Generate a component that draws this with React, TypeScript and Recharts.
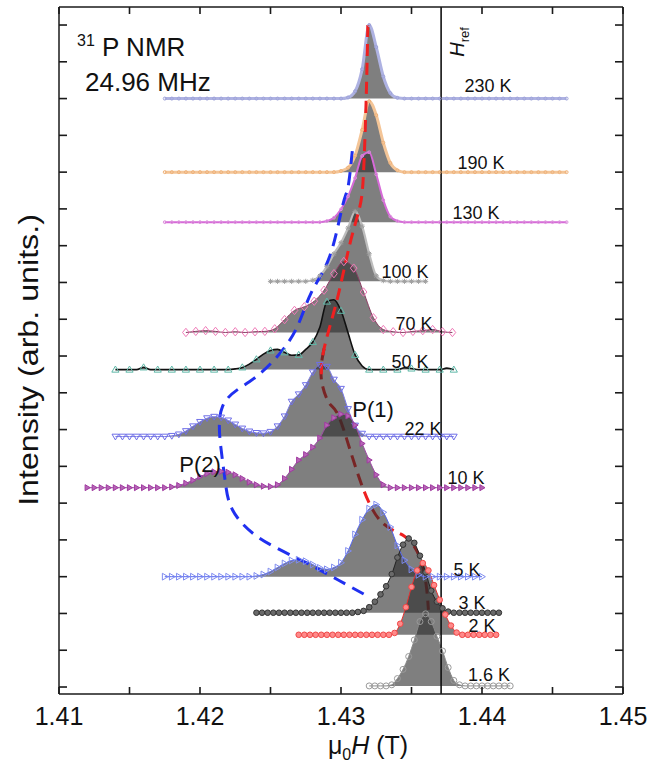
import { Area, ComposedChart, Line, ReferenceLine, XAxis, YAxis } from "recharts"

// temperatures, stacking offsets (in tick units) and field grid of every trace
const temps = ["230 K", "190 K", "130 K", "100 K", "70 K", "50 K", "22 K", "10 K", "5 K", "3 K", "2 K", "1.6 K"]
const offsets = [16.0, 14.0, 12.64, 11.03, 9.64, 8.63, 6.81, 5.42, 3.0, 2.02, 1.42, 0.03]
const fieldStart = [1.4175, 1.4175, 1.4175, 1.425, 1.419, 1.414, 1.414, 1.412, 1.4175, 1.424, 1.427, 1.432]
const fieldStep = [0.0005, 0.0005, 0.0005, 0.0005, 0.0007, 0.0005, 0.0005, 0.0005, 0.0005, 0.0004, 0.0004, 0.0004]

// intensities above each baseline
const s230 = [
  0, 0, 0, 0, 0, 0, 0, 0, 0, 0,
  0, 0, 0, 0, 0, 0, 0, 0, 0, 0,
  0, 0, 0, 0, 0, 0, 0.03, 0.2, 0.8, 2.0,
  1.4, 0.6, 0.15, 0.02, 0, 0, 0, 0, 0, 0,
  0, 0, 0, 0, 0, 0, 0, 0, 0, 0,
  0, 0, 0, 0, 0, 0, 0, 0,
]
const s190 = [
  0, 0, 0, 0, 0, 0, 0, 0, 0, 0,
  0, 0, 0, 0, 0, 0, 0, 0, 0, 0,
  0, 0, 0, 0, 0, 0.03, 0.12, 0.45, 1.15, 1.93,
  1.55, 0.8, 0.25, 0.05, 0, 0, 0, 0, 0, 0,
  0, 0, 0, 0, 0, 0, 0, 0, 0, 0,
  0, 0, 0, 0, 0, 0, 0, 0,
]
const s130 = [
  0, 0, 0, 0, 0, 0, 0, 0, 0, 0,
  0, 0, 0, 0, 0, 0, 0, 0, 0, 0,
  0, 0, 0, 0.03, 0.12, 0.35, 0.7, 1.2, 1.8, 1.9,
  1.3, 0.6, 0.15, 0.03, 0, 0, 0, 0, 0, 0,
  0, 0, 0, 0, 0, 0, 0, 0, 0, 0,
  0, 0, 0, 0, 0, 0, 0, 0,
]
const s100 = [0, 0, 0, 0, 0, 0, 0.03, 0.15, 0.4, 0.75, 1.05, 1.45, 1.9, 1.5, 0.75, 0.15, 0.02, 0, 0, 0, 0, 0, 0]
const s70 = [
  0, 0.03, 0.05, 0.03, 0, 0.02, 0, 0.02, 0.03, 0.1,
  0.35, 0.6, 0.7, 0.85, 1.15, 1.6, 1.93, 1.75, 1.1, 0.4,
  0.08, 0.02, 0, 0.03, 0.05, 0.08, 0.02, 0,
]
const s50 = [
  0, 0, 0, 0, 0.06, 0, 0, 0, 0, 0,
  0, 0, 0, 0, 0, 0, 0, 0.02, 0.06, 0.15,
  0.28, 0.42, 0.52, 0.55, 0.47, 0.39, 0.4, 0.55, 0.75, 1.15,
  1.85, 1.9, 1.6, 1.0, 0.4, 0.1, 0, 0, 0, 0,
  0, 0.05, 0.03, 0, 0, 0, 0, 0.04, 0,
]
const s22 = [
  0, 0, 0, 0, 0, 0, 0, 0, 0.02, 0.06,
  0.15, 0.28, 0.4, 0.5, 0.54, 0.52, 0.44, 0.33, 0.22, 0.14,
  0.1, 0.09, 0.13, 0.28, 0.55, 0.95, 1.15, 1.4, 1.75, 1.95,
  1.9, 1.55, 1.3, 0.75, 0.3, 0.08, 0, 0, 0, 0,
  0, 0, 0, 0, 0, 0, 0, 0, 0,
]
const s10 = [
  0, 0, 0, 0, 0, 0, 0, 0, 0, 0,
  0, 0, 0.02, 0.06, 0.12, 0.2, 0.3, 0.38, 0.43, 0.44,
  0.42, 0.35, 0.25, 0.15, 0.08, 0.04, 0.03, 0.08, 0.25, 0.5,
  0.75, 0.9, 1.1, 1.35, 1.7, 1.9, 2.0, 1.95, 1.7, 1.2,
  0.75, 0.35, 0.08, 0, 0, 0, 0, 0, 0, 0,
  0, 0, 0, 0, 0, 0, 0,
]
const s5 = [
  0, 0, 0, 0, 0, 0, 0, 0, 0, 0,
  0, 0, 0, 0.02, 0.06, 0.14, 0.25, 0.36, 0.44, 0.46,
  0.42, 0.33, 0.24, 0.2, 0.25, 0.38, 0.7, 1.15, 1.55, 1.85,
  1.96, 1.75, 1.35, 0.85, 0.45, 0.2, 0.05, 0, 0, 0,
  0, 0, 0, 0, 0, 0,
]
const s3 = [
  0, 0, 0, 0, 0, 0, 0, 0, 0, 0,
  0, 0, 0, 0, 0, 0, 0, 0, 0.02, 0.05,
  0.15, 0.3, 0.5, 0.72, 1.05, 1.5, 1.85, 2.02, 1.9, 1.55,
  1.1, 0.6, 0.3, 0.12, 0.03, 0, 0, 0, 0, 0,
  0, 0, 0, 0,
]
const s2 = [
  0, 0, 0, 0, 0, 0, 0, 0, 0, 0,
  0, 0, 0, 0, 0, 0, 0, 0.05, 0.3, 0.75,
  1.3, 1.75, 1.95, 1.75, 1.35, 0.95, 0.55, 0.25, 0.06, 0,
  0, 0, 0, 0, 0, 0,
]
const s16 = [0, 0, 0, 0, 0.03, 0.2, 0.45, 0.8, 1.25, 1.75, 1.96, 1.75, 1.35, 0.95, 0.5, 0.15, 0.03, 0, 0, 0, 0, 0, 0, 0, 0, 0]
const intensities = [s230, s190, s130, s100, s70, s50, s22, s10, s5, s3, s2, s16]

// guide lines through the P(1) and P(2) peaks
const redField = [1.4319, 1.4318, 1.4316, 1.4313, 1.4306, 1.4297, 1.4288, 1.4286, 1.4292, 1.4301, 1.4322, 1.4345, 1.4358, 1.4362]
const redLevel = [18.0, 16.2, 14.0, 13.0, 12.0, 10.5, 9.2, 8.4, 7.7, 7.1, 4.85, 4.1, 3.27, 2.1]
const blueField = [1.4308, 1.4305, 1.4301, 1.4292, 1.4279, 1.4268, 1.4253, 1.4235, 1.4216, 1.4215, 1.4218, 1.4223, 1.4241, 1.4271, 1.4298, 1.4317]
const blueLevel = [14.57, 13.6, 13.07, 11.71, 10.73, 9.72, 8.91, 8.3, 7.63, 6.45, 5.56, 4.82, 4.08, 3.46, 2.91, 2.51]

const xTicks = [1.41, 1.415, 1.42, 1.425, 1.43, 1.435, 1.44, 1.445, 1.45]
const xMajor = [1.41, 1.42, 1.43, 1.44, 1.45]
const xLabels = ["1.41", "1.42", "1.43", "1.44", "1.45"]
const yTicks = [0, 1, 2, 3, 4, 5, 6, 7, 8, 9, 10, 11, 12, 13, 14, 15, 16, 17, 18]
const hRef = 1.4371
const xDomain = [1.41, 1.45]
const yDomain = [-0.19, 18.49]

const spectra = temps.map((name, k) => ({
  name,
  base: offsets[k],
  data: intensities[k].map((v, i) => ({ x: fieldStart[k] + i * fieldStep[k], y: offsets[k] + v })),
}))
const redData = redField.map((x, i) => ({ x, y: redLevel[i] }))
const blueData = blueField.map((x, i) => ({ x, y: blueLevel[i] }))

type Look = { stroke: string; width: number; marker: string; mColor: string; mFill: string; size: number; every: number }
const looks: Look[] = [
  { stroke: "#aeb2e2", width: 3, marker: "circle", mColor: "#9ea3da", mFill: "none", size: 1.5, every: 1 },
  { stroke: "#f4c597", width: 3, marker: "circle", mColor: "#efb27a", mFill: "none", size: 1.5, every: 1 },
  { stroke: "#d66ad8", width: 2, marker: "circle", mColor: "#dc8edc", mFill: "none", size: 1.4, every: 1 },
  { stroke: "#bdbdbd", width: 2.2, marker: "star", mColor: "#a0a0a0", mFill: "none", size: 2.6, every: 1 },
  { stroke: "#8b3a62", width: 1, marker: "diamond", mColor: "#f07ab8", mFill: "none", size: 4.2, every: 1 },
  { stroke: "#111", width: 1.6, marker: "triUp", mColor: "#5fb8a8", mFill: "none", size: 3.6, every: 2 },
  { stroke: "#7a7ae6", width: 1, marker: "triDown", mColor: "#6f6fe8", mFill: "none", size: 3.4, every: 1 },
  { stroke: "#a04aa8", width: 1, marker: "triRight", mColor: "#a13ba1", mFill: "#b565b5", size: 3, every: 1 },
  { stroke: "#5566ee", width: 1, marker: "triRight", mColor: "#7f8cf0", mFill: "none", size: 3.4, every: 1 },
  { stroke: "#222", width: 1, marker: "circle", mColor: "#333", mFill: "#6a6a6a", size: 2.8, every: 1 },
  { stroke: "#e83030", width: 1, marker: "circle", mColor: "#f04848", mFill: "#ff8a8a", size: 2.8, every: 1 },
  { stroke: "#888", width: 1, marker: "circle", mColor: "#9a9a9a", mFill: "none", size: 3, every: 1 },
]

const tempPos = [
  [488, 86], [481, 163], [476, 213], [405, 272], [414, 324], [410, 362],
  [423, 429], [466, 478], [467, 570], [472, 603], [482, 626], [489, 675],
]

// plot frame edges (from the margins / axis sizes below)
const plotL = 59
const plotR = 623
const plotT = 7
const plotB = 694
const ink = "#1a1a1a"
const font = "'Liberation Sans', Arial, sans-serif"

function marker(kind: string, cx: number, cy: number, s: number, color: string, fill: string, key: number) {
  if (kind === "circle") return <circle key={key} cx={cx} cy={cy} r={s} stroke={color} fill={fill} strokeWidth={1} />
  let d = ""
  if (kind === "diamond") d = `M${cx},${cy - s}L${cx + s * 0.8},${cy}L${cx},${cy + s}L${cx - s * 0.8},${cy}Z`
  if (kind === "triUp") d = `M${cx},${cy - s}L${cx + s},${cy + s * 0.7}L${cx - s},${cy + s * 0.7}Z`
  if (kind === "triDown") d = `M${cx},${cy + s}L${cx + s},${cy - s * 0.7}L${cx - s},${cy - s * 0.7}Z`
  if (kind === "triRight") d = `M${cx + s},${cy}L${cx - s * 0.7},${cy - s}L${cx - s * 0.7},${cy + s}Z`
  if (kind === "star")
    d = `M${cx - s},${cy}L${cx + s},${cy}M${cx},${cy - s}L${cx},${cy + s}M${cx - s * 0.7},${cy - s * 0.7}L${cx + s * 0.7},${cy + s * 0.7}M${cx - s * 0.7},${cy + s * 0.7}L${cx + s * 0.7},${cy - s * 0.7}`
  return <path key={key} d={d} stroke={color} fill={fill} strokeWidth={1} />
}

// x ticks: inward marks on the bottom and top edges, labels on the bottom
function FieldTick(props: any) {
  const { x, payload } = props
  const i = xMajor.findIndex((t) => Math.abs(t - payload.value) < 1e-9)
  return (
    <g>
      <rect x={x - 0.8} y={plotB - 7} width={1.6} height={7} fill={ink} />
      <rect x={x - 0.8} y={plotT} width={1.6} height={7} fill={ink} />
      {i >= 0 && (
        <text x={x} y={plotB + 31} textAnchor="middle" fontSize={25} fontFamily={font} fill="#111">
          {xLabels[i]}
        </text>
      )}
    </g>
  )
}

// y ticks: inward marks on the left and right edges, no labels
function LevelTick(props: any) {
  const { y } = props
  return (
    <g>
      <rect x={plotL} y={y - 0.8} width={8} height={1.6} fill={ink} />
      <rect x={plotR - 8} y={y - 0.8} width={8} height={1.6} fill={ink} />
    </g>
  )
}

const frame = { stroke: ink, strokeWidth: 1.5 }

export default function App() {
  const abs = (x: number, y: number, size: number, extra: any = {}) => ({
    position: "absolute" as const,
    left: x,
    top: y,
    transform: "translate(-50%, -50%)",
    fontSize: size,
    fontFamily: font,
    lineHeight: 1,
    whiteSpace: "nowrap" as const,
    color: "#111",
    ...extra,
  })

  return (
    <div style={{ position: "absolute", left: 0, top: 0, width: 672, height: 769, background: "#fff" }}>
      <ComposedChart width={672} height={769} margin={{ top: 0, right: 0, bottom: 0, left: 0 }} style={{ overflow: "visible" }}>
        <XAxis xAxisId="b" type="number" dataKey="x" domain={xDomain} ticks={xTicks} interval={0}
          allowDataOverflow height={769 - plotB} axisLine={frame} tickLine={false} tick={<FieldTick />} />
        <XAxis xAxisId="t" orientation="top" type="number" dataKey="x" domain={xDomain} ticks={xTicks}
          interval={0} allowDataOverflow height={plotT} axisLine={frame} tickLine={false} tick={false} />
        <YAxis yAxisId="l" type="number" domain={yDomain} ticks={yTicks} interval={0} allowDataOverflow
          width={plotL} axisLine={frame} tickLine={false} tick={<LevelTick />} />
        <YAxis yAxisId="r" orientation="right" type="number" domain={yDomain} ticks={yTicks} interval={0}
          allowDataOverflow width={672 - plotR} axisLine={frame} tickLine={false} tick={false} />

        <Line xAxisId="b" yAxisId="l" data={redData.slice(6)} dataKey="y" type="natural" stroke="#ee2020" strokeWidth={3}
          strokeDasharray="12 7" dot={false} activeDot={false} isAnimationActive={false} zIndex={50} />

        {spectra.map((s) => (
          <Area key={"a" + s.name} xAxisId="b" yAxisId="l" data={s.data} dataKey="y" type="monotone"
            baseValue={s.base} stroke="none" fill="#2a2a2a" fillOpacity={0.6} isAnimationActive={false} />
        ))}

        {spectra.map((s, k) => {
          const lk = looks[k]
          return (
            <Line key={"l" + s.name} xAxisId="b" yAxisId="l" data={s.data} dataKey="y" type="monotone"
              stroke={lk.stroke} strokeWidth={lk.width} activeDot={false} isAnimationActive={false}
              dot={(p: any) =>
                p.index % lk.every !== 0
                  ? <g key={p.index} />
                  : marker(lk.marker, p.cx, p.cy, lk.size, lk.mColor, lk.mFill, p.index)
              } />
          )
        })}

        <Line xAxisId="b" yAxisId="l" data={redData.slice(0, 8)} dataKey="y" type="natural" stroke="#ee2020" strokeWidth={3}
          strokeDasharray="12 7" dot={false} activeDot={false} isAnimationActive={false} />
        <Line xAxisId="b" yAxisId="l" data={blueData} dataKey="y" type="natural" stroke="#2030f0" strokeWidth={3}
          strokeDasharray="13 8" dot={false} activeDot={false} isAnimationActive={false} />

        <ReferenceLine xAxisId="b" yAxisId="l" x={hRef} stroke="#111" strokeWidth={1.6} />
      </ComposedChart>

      {temps.map((t, k) => (
        <div key={t} style={abs(tempPos[k][0], tempPos[k][1], 18)}>{t}</div>
      ))}
      <div style={abs(373, 410, 22)}>P(1)</div>
      <div style={abs(200, 465, 22)}>P(2)</div>

      <div style={{ position: "absolute", left: 77, top: 34, fontSize: 26, fontFamily: font, lineHeight: 1, whiteSpace: "nowrap", color: "#111" }}>
        <span style={{ fontSize: 16, position: "relative", top: -10 }}>31</span> P NMR
      </div>
      <div style={{ position: "absolute", left: 85, top: 69, fontSize: 26, fontFamily: font, lineHeight: 1, whiteSpace: "nowrap", color: "#111" }}>
        24.96 MHz
      </div>

      <div style={abs(457, 42, 20, { transform: "translate(-50%, -50%) rotate(-90deg)" })}>
        <i>H</i><span style={{ fontSize: 13, position: "relative", top: 5 }}>ref</span>
      </div>

      <div style={abs(368, 745, 25)}>
        μ<span style={{ fontSize: 16, position: "relative", top: 6 }}>0</span><i>H</i> (T)
      </div>
      <div style={abs(29, 360, 28, { transform: "translate(-50%, -50%) rotate(-90deg) scaleX(1.15)" })}>
        Intensity (arb. units.)
      </div>
    </div>
  )
}
